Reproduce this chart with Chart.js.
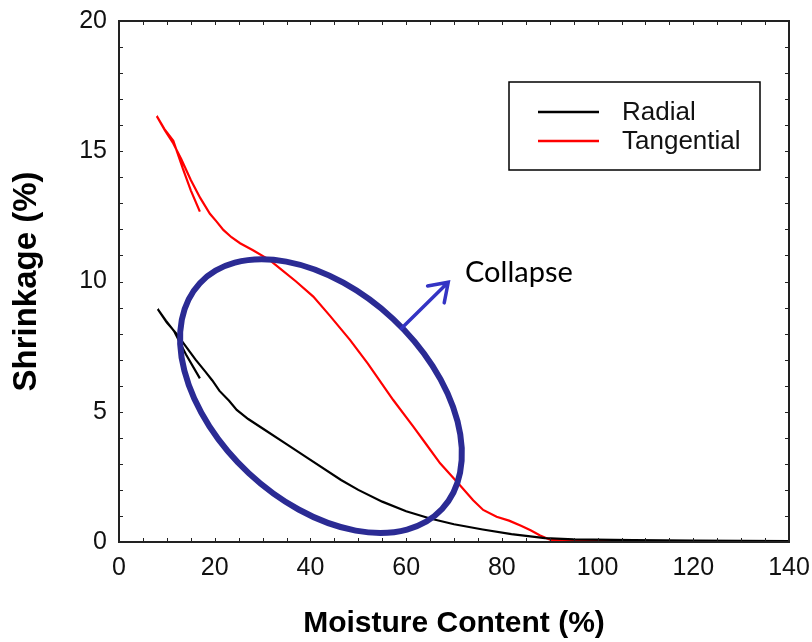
<!DOCTYPE html>
<html>
<head>
<meta charset="utf-8">
<script src="https://cdn.jsdelivr.net/npm/chart.js@4.4.1/dist/chart.umd.min.js"></script>
<style>
  body { margin: 0; background: #fff; }
  #wrap { width: 812px; height: 642px; }
</style>
</head>
<body>
<div id="wrap"><canvas id="chart" width="812" height="642"></canvas></div>
<script>
// shrinkage curves (each path includes its small end tail)
const radialX = [16.9, 14.0, 11.5, 9.8, 8.1, 10, 12, 14, 16, 18, 19.5, 21, 23, 24.6, 27, 30.5, 35, 40, 46.4, 50, 55, 60, 65, 70, 76, 82, 89, 95, 107.5, 120, 130, 140];
const radialY = [6.28, 7.2, 8.1, 8.5, 8.94, 8.42, 8.0, 7.5, 7.0, 6.55, 6.2, 5.8, 5.42, 5.07, 4.72, 4.3, 3.76, 3.15, 2.38, 2.0, 1.55, 1.18, 0.9, 0.68, 0.48, 0.3, 0.15, 0.1, 0.07, 0.05, 0.04, 0.03];

const tangentialX = [16.9, 15.0, 13.4, 11.35, 9.5, 7.9, 9.6, 11.35, 13, 15, 17, 19, 20.4, 21.8, 23.5, 25.3, 28, 31.5, 34, 37, 40.6, 44, 48.3, 52, 57.3, 61.5, 64, 67.1, 71.2, 74, 76.1, 78.9, 81.5, 84, 86, 88, 90.2, 95, 100, 108];
const tangentialY = [12.68, 13.5, 14.3, 15.4, 15.85, 16.35, 15.8, 15.3, 14.7, 13.9, 13.2, 12.6, 12.3, 11.98, 11.7, 11.47, 11.2, 10.82, 10.45, 10.0, 9.42, 8.7, 7.75, 6.85, 5.45, 4.43, 3.8, 3.02, 2.19, 1.6, 1.23, 0.97, 0.82, 0.62, 0.45, 0.25, 0.08, 0.06, 0.05, 0.03];

const seriesNames = ['Radial', 'Tangential'];
const seriesColors = ['#000000', '#ff0000'];

// annotation: ellipse around the collapse zone, arrow and label
const collapseCenter = [42.2, 5.6];
const arrowFrom = [59.0, 8.2];
const arrowTo = [68.8, 9.97];
const collapseLabel = 'Collapse';
const collapseLabelAt = [72.3, 10.0];

const FONT = "'Liberation Sans', Arial, sans-serif";

function toPoints(xs, ys) {
    return xs.map((x, i) => ({ x: x, y: ys[i] }));
}

const decorations = {
    id: 'decorations',
    afterDatasetsDraw(chart) {
        const ctx = chart.ctx;
        const xs = chart.scales.x, ys = chart.scales.y;
        const a = chart.chartArea;

        // ellipse
        ctx.save();
        ctx.beginPath();
        ctx.ellipse(xs.getPixelForValue(collapseCenter[0]), ys.getPixelForValue(collapseCenter[1]),
            165.6, 105.6, 43 * Math.PI / 180, 0, Math.PI * 2);
        ctx.strokeStyle = '#2b2b94';
        ctx.lineWidth = 6;
        ctx.stroke();

        // arrow
        const x0 = xs.getPixelForValue(arrowFrom[0]), y0 = ys.getPixelForValue(arrowFrom[1]);
        const x1 = xs.getPixelForValue(arrowTo[0]), y1 = ys.getPixelForValue(arrowTo[1]);
        const ang = Math.atan2(y1 - y0, x1 - x0);
        ctx.strokeStyle = '#3434c4';
        ctx.lineWidth = 3.5;
        ctx.lineCap = 'round';
        ctx.beginPath();
        ctx.moveTo(x0, y0);
        ctx.lineTo(x1, y1);
        ctx.moveTo(x1 - 21 * Math.cos(ang - 0.6), y1 - 21 * Math.sin(ang - 0.6));
        ctx.lineTo(x1, y1);
        ctx.lineTo(x1 - 21 * Math.cos(ang + 0.6), y1 - 21 * Math.sin(ang + 0.6));
        ctx.stroke();

        ctx.fillStyle = '#000';
        ctx.font = "29px Lato, 'Open Sans', sans-serif";
        ctx.textAlign = 'left';
        ctx.textBaseline = 'alphabetic';
        ctx.fillText(collapseLabel, xs.getPixelForValue(collapseLabelAt[0]), ys.getPixelForValue(collapseLabelAt[1]));
        ctx.restore();

        // frame + inward ticks on all sides
        ctx.save();
        ctx.strokeStyle = '#222';
        ctx.lineWidth = 1;
        ctx.beginPath();
        for (let v = 5; v < 140; v += 5) {
            const px = Math.round(xs.getPixelForValue(v)) + 0.5;
            ctx.moveTo(px, a.bottom); ctx.lineTo(px, a.bottom - 4);
            ctx.moveTo(px, a.top); ctx.lineTo(px, a.top + 4);
        }
        for (let v = 1; v < 20; v += 1) {
            const py = Math.round(ys.getPixelForValue(v)) + 0.5;
            ctx.moveTo(a.left, py); ctx.lineTo(a.left + 4, py);
            ctx.moveTo(a.right, py); ctx.lineTo(a.right - 4, py);
        }
        ctx.stroke();
        ctx.lineWidth = 2;
        ctx.strokeRect(a.left, a.top, a.right - a.left, a.bottom - a.top);
        ctx.restore();

        // legend box
        ctx.save();
        const bx = a.left + 390, by = a.top + 61;
        ctx.strokeStyle = '#000';
        ctx.lineWidth = 1.5;
        ctx.strokeRect(bx, by, 251, 88);
        ctx.font = '26px ' + FONT;
        ctx.textBaseline = 'alphabetic';
        ctx.fillStyle = '#111';
        seriesNames.forEach((name, i) => {
            const ly = by + 30 + i * 29;
            ctx.strokeStyle = seriesColors[i];
            ctx.lineWidth = 2.5;
            ctx.beginPath();
            ctx.moveTo(bx + 29, ly);
            ctx.lineTo(bx + 90, ly);
            ctx.stroke();
            ctx.fillText(name, bx + 113, ly + 8);
        });
        ctx.restore();
    }
};

new Chart(document.getElementById('chart'), {
    type: 'scatter',
    data: {
        datasets: [
            {
                label: seriesNames[0],
                data: toPoints(radialX, radialY),
                showLine: true,
                borderColor: seriesColors[0],
                borderWidth: 2.2,
                pointRadius: 0,
                tension: 0
            },
            {
                label: seriesNames[1],
                data: toPoints(tangentialX, tangentialY),
                showLine: true,
                borderColor: seriesColors[1],
                borderWidth: 2.2,
                pointRadius: 0,
                tension: 0
            }
        ]
    },
    options: {
        responsive: false,
        animation: false,
        layout: { padding: { top: 21, right: 23, left: 0, bottom: 0 } },
        plugins: {
            legend: { display: false },
            tooltip: { enabled: false }
        },
        scales: {
            x: {
                type: 'linear',
                min: 0,
                max: 140,
                grid: { display: false, drawTicks: false },
                border: { display: false },
                ticks: { stepSize: 20, padding: 11, color: '#111', font: { family: FONT, size: 25 } },
                title: {
                    display: true,
                    text: 'Moisture Content (%)',
                    color: '#000',
                    padding: 0,
                    font: { family: FONT, size: 30, weight: 'bold' }
                },
                afterFit(scale) {
                    scale.height = 100;
                    scale.paddingLeft = 0;
                    scale.paddingRight = 0;
                }
            },
            y: {
                type: 'linear',
                min: 0,
                max: 20,
                grid: { display: false, drawTicks: false },
                border: { display: false },
                ticks: { stepSize: 5, padding: 12, color: '#111', font: { family: FONT, size: 25 } },
                title: {
                    display: true,
                    text: 'Shrinkage (%)',
                    color: '#000',
                    padding: { top: 7, bottom: 0 },
                    font: { family: FONT, size: 33, weight: 'bold' }
                },
                afterFit(scale) {
                    scale.width = 119;
                    scale.paddingTop = 0;
                    scale.paddingBottom = 0;
                }
            }
        }
    },
    plugins: [decorations]
});
</script>
</body>
</html>
